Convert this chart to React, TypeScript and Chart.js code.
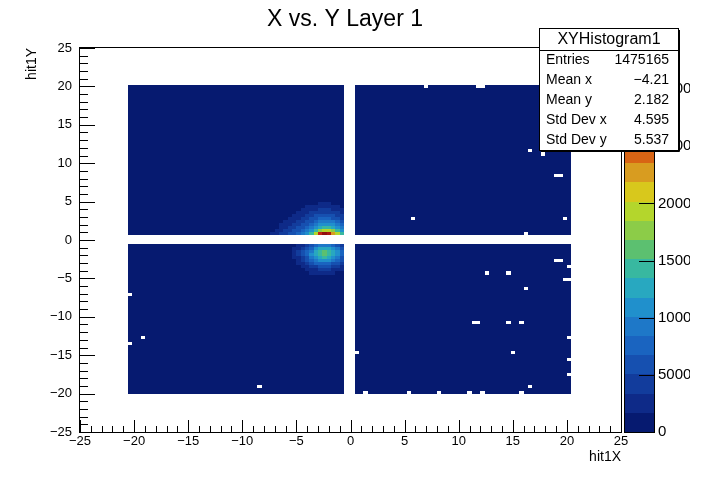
import React, { useEffect, useRef } from "react";
import { Chart, registerables } from "chart.js";

Chart.register(...registerables);

// ---------- text ----------
const chartTitle = "X vs. Y Layer 1";
const xAxisTitle = "hit1X";
const yAxisTitle = "hit1Y";
const axisMin = -25;
const axisMax = 25;
const axisMajorStep = 5;
const axisMinorStep = 1;

// ---------- histogram binning ----------
const binWidthX = 0.4;
const binHeightY = 0.4;
const xBlockStarts = [-20.6, 0.4];
const xBinsPerBlock = 50;
const yBlockStarts = [-20.1, 0.6];
const yBinsPerBlock = 49;
const backgroundCount = 60;

// ---------- hot spot near the origin (counts per bin) ----------
const hotspotFirstColumnLeft = -7.4; // 17 columns of 0.4 from here
const upperBlockBottom = 0.6; // upper rows go upward from here
const lowerBlockTop = -0.5; // lower rows go downward from here

const upperHotspotRows: number[][] = [
  [2500, 2500, 4200, 4200, 5900, 5900, 7600, 9300, 10900, 14300, 19300, 29400, 33600, 31000, 22700, 19300, 14300],
  [900, 2500, 2500, 4200, 4200, 5900, 5900, 7600, 9300, 10900, 14300, 17600, 19300, 19300, 17600, 14300, 10900],
  [900, 900, 2500, 2500, 4200, 4200, 5900, 5900, 7600, 9300, 10900, 12600, 14300, 14300, 12600, 10900, 9300],
  [900, 900, 2500, 2500, 2500, 4200, 4200, 5900, 5900, 7600, 9300, 10900, 10900, 10900, 10900, 9300, 7600],
  [900, 900, 900, 2500, 2500, 2500, 4200, 4200, 5900, 5900, 7600, 9300, 9300, 9300, 9300, 7600, 5900],
  [900, 900, 900, 900, 2500, 2500, 2500, 4200, 4200, 5900, 5900, 7600, 7600, 7600, 5900, 5900, 4200],
  [900, 900, 900, 900, 900, 2500, 2500, 2500, 4200, 4200, 5900, 5900, 5900, 5900, 5900, 4200, 4200],
  [900, 900, 900, 900, 900, 900, 2500, 2500, 2500, 4200, 4200, 4200, 4200, 4200, 4200, 4200, 2500],
  [900, 900, 900, 900, 900, 900, 900, 2500, 2500, 2500, 2500, 4200, 4200, 4200, 2500, 2500, 2500],
  [900, 900, 900, 900, 900, 900, 900, 900, 2500, 2500, 2500, 2500, 2500, 2500, 2500, 2500, 900],
  [900, 900, 900, 900, 900, 900, 900, 900, 900, 900, 900, 2500, 2500, 2500, 900, 900, 900],
];

const lowerHotspotRows: number[][] = [
  [900, 900, 900, 900, 900, 900, 2500, 2500, 4200, 5900, 7600, 9300, 9300, 9300, 7600, 5900, 4200],
  [900, 900, 900, 900, 900, 2500, 2500, 4200, 5900, 7600, 10900, 12600, 12600, 12600, 10900, 9300, 5900],
  [900, 900, 900, 900, 900, 2500, 4200, 5900, 7600, 9300, 12600, 14300, 16000, 14300, 12600, 10900, 7600],
  [900, 900, 900, 900, 900, 2500, 4200, 5900, 7600, 10900, 12600, 14300, 16000, 14300, 12600, 10900, 7600],
  [900, 900, 900, 900, 900, 2500, 2500, 4200, 5900, 9300, 10900, 12600, 14300, 12600, 10900, 9300, 5900],
  [900, 900, 900, 900, 900, 900, 2500, 4200, 5900, 7600, 9300, 10900, 10900, 10900, 9300, 7600, 5900],
  [900, 900, 900, 900, 900, 900, 2500, 2500, 4200, 5900, 7600, 7600, 7600, 7600, 5900, 5900, 4200],
  [900, 900, 900, 900, 900, 900, 900, 2500, 2500, 4200, 4200, 5900, 5900, 5900, 4200, 4200, 2500],
  [900, 900, 900, 900, 900, 900, 900, 900, 2500, 2500, 2500, 4200, 4200, 4200, 2500, 2500, 2500],
  [900, 900, 900, 900, 900, 900, 900, 900, 900, 2500, 2500, 2500, 2500, 2500, 2500, 900, 900],
];

// empty bins (bin centres) drawn as white holes
const emptyBins: [number, number][] = [
  [-20.4, -7.1], [-20.4, -13.5], [-19.2, -12.7], [-8.4, -19.1],
  [7.0, 20.0], [11.8, 20.0], [12.2, 20.0], [16.6, 11.6], [17.8, 11.2],
  [19.0, 8.4], [19.4, 8.4], [5.8, 2.8], [19.8, 2.8], [16.2, 0.8],
  [19.0, -2.7], [19.4, -2.7], [20.2, -3.5], [19.8, -5.1], [20.2, -5.1],
  [12.6, -4.3], [14.6, -4.3], [16.2, -6.3], [11.4, -10.7], [11.8, -10.7],
  [14.6, -10.7], [15.8, -10.7], [20.2, -12.7], [0.6, -14.7], [15.0, -14.7],
  [20.2, -15.5], [20.2, -17.5], [16.6, -19.1],
  [1.4, -19.9], [5.4, -19.9], [8.2, -19.9], [11.0, -19.9], [12.2, -19.9], [15.8, -19.9],
];

// ---------- colour scale ----------
const zMax = 33600;
const zTickValues = [0, 5000, 10000, 15000, 20000, 25000, 30000];
const contourLevels = 20;
const paletteColors = [
  "#061a70", "#0e2a88", "#123c9c", "#1650b0", "#1a64c0",
  "#1e78c8", "#2090cc", "#28a8c0", "#38b8a0", "#5cc070",
  "#8ccc48", "#b4d62c", "#d8c81c", "#d89c20", "#d86414",
  "#d04a14", "#c83414", "#c02414", "#a81810", "#901010",
];

// ---------- statistics box ----------
const statsName = "XYHistogram1";
const statsLabels = ["Entries", "Mean x", "Mean y", "Std Dev x", "Std Dev y"];
const statsValues = ["1475165", "\u22124.21", "2.182", "4.595", "5.537"];

const FONT = "'Liberation Sans', Arial, Helvetica, sans-serif";

type Cell = { x: number; y: number; v: number };

function binKey(x: number, y: number) {
  return Math.round(x * 10) + ":" + Math.round(y * 10);
}

function buildCells(): Cell[] {
  const map = new Map<string, Cell>();
  for (const x0 of xBlockStarts) {
    for (let i = 0; i < xBinsPerBlock; i++) {
      const cx = x0 + (i + 0.5) * binWidthX;
      for (const y0 of yBlockStarts) {
        for (let j = 0; j < yBinsPerBlock; j++) {
          const cy = y0 + (j + 0.5) * binHeightY;
          map.set(binKey(cx, cy), { x: cx, y: cy, v: backgroundCount });
        }
      }
    }
  }
  upperHotspotRows.forEach((row, r) =>
    row.forEach((v, c) => {
      const cx = hotspotFirstColumnLeft + (c + 0.5) * binWidthX;
      const cy = upperBlockBottom + (r + 0.5) * binHeightY;
      const cell = map.get(binKey(cx, cy));
      if (cell) cell.v = v;
    })
  );
  lowerHotspotRows.forEach((row, r) =>
    row.forEach((v, c) => {
      const cx = hotspotFirstColumnLeft + (c + 0.5) * binWidthX;
      const cy = lowerBlockTop - (r + 0.5) * binHeightY;
      const cell = map.get(binKey(cx, cy));
      if (cell) cell.v = v;
    })
  );
  emptyBins.forEach(([x, y]) => {
    const cell = map.get(binKey(x, y));
    if (cell) cell.v = 0;
  });
  return Array.from(map.values());
}

function levelOf(v: number) {
  return Math.max(0, Math.min(contourLevels - 1, Math.floor((v / zMax) * contourLevels)));
}

function fmt(v: number) {
  return v < 0 ? "\u2212" + String(-v) : String(v);
}

const heatmapPlugin = {
  id: "heatmapCells",
  beforeDatasetsDraw(chart: any) {
    const { ctx, chartArea, scales } = chart;
    const xs = scales.x;
    const ys = scales.y;
    const cells = chart.data.datasets[0].data as Cell[];
    ctx.save();
    ctx.beginPath();
    ctx.rect(chartArea.left, chartArea.top, chartArea.right - chartArea.left, chartArea.bottom - chartArea.top);
    ctx.clip();
    for (const c of cells) {
      if (c.v <= 0) continue;
      const x0 = Math.round(xs.getPixelForValue(c.x - binWidthX / 2));
      const x1 = Math.round(xs.getPixelForValue(c.x + binWidthX / 2));
      const y0 = Math.round(ys.getPixelForValue(c.y + binHeightY / 2));
      const y1 = Math.round(ys.getPixelForValue(c.y - binHeightY / 2));
      ctx.fillStyle = paletteColors[levelOf(c.v)];
      ctx.fillRect(x0, y0, x1 - x0, y1 - y0);
    }
    ctx.restore();
  },
  afterDatasetsDraw(chart: any) {
    const { ctx, chartArea, scales } = chart;
    const xs = scales.x;
    const ys = scales.y;
    const zs = scales.z;
    const L = Math.round(chartArea.left);
    const R = Math.round(chartArea.right);
    const T = Math.round(chartArea.top);
    const B = Math.round(chartArea.bottom);
    ctx.save();
    ctx.strokeStyle = "#000";
    ctx.lineWidth = 1;
    // frame
    ctx.strokeRect(L - 0.5, T - 0.5, R - L + 1, B - T + 1);
    // axis ticks (inside)
    ctx.beginPath();
    for (let v = axisMin; v <= axisMax; v += axisMinorStep) {
      const major = v % axisMajorStep === 0;
      const px = Math.round(xs.getPixelForValue(v)) + 0.5;
      ctx.moveTo(px, B);
      ctx.lineTo(px, B - (major ? 12 : 6));
      const py = Math.round(ys.getPixelForValue(v)) + 0.5;
      ctx.moveTo(L, py);
      ctx.lineTo(L + (major ? 15 : 8), py);
    }
    ctx.stroke();

    // colour bar
    const cbL = R + 3;
    const cbR = R + 33;
    for (let k = 0; k < contourLevels; k++) {
      const yTop = Math.round(zs.getPixelForValue(((k + 1) * zMax) / contourLevels));
      const yBot = Math.round(zs.getPixelForValue((k * zMax) / contourLevels));
      ctx.fillStyle = paletteColors[k];
      ctx.fillRect(cbL, yTop, cbR - cbL, yBot - yTop);
    }
    ctx.strokeRect(cbL + 0.5, T - 0.5, cbR - cbL, B - T + 1);
    ctx.beginPath();
    for (const t of zs.ticks) {
      const py = Math.round(zs.getPixelForValue(t.value)) + 0.5;
      ctx.moveTo(cbR, py);
      ctx.lineTo(cbR - 15, py);
    }
    ctx.stroke();
    ctx.restore();
  },
  afterDraw(chart: any) {
    const { ctx } = chart;
    const bx = 539;
    const by = 28;
    const bw = 139;
    const bh = 122;
    ctx.save();
    ctx.fillStyle = "#fff";
    ctx.fillRect(bx, by, bw, bh);
    ctx.strokeStyle = "#000";
    ctx.lineWidth = 1;
    ctx.strokeRect(bx + 0.5, by + 0.5, bw, bh);
    ctx.beginPath();
    ctx.moveTo(bx + bw + 1.5, by + 2);
    ctx.lineTo(bx + bw + 1.5, by + bh + 1.5);
    ctx.lineTo(bx + 2, by + bh + 1.5);
    ctx.moveTo(bx, by + 22.5);
    ctx.lineTo(bx + bw + 1, by + 22.5);
    ctx.stroke();
    ctx.fillStyle = "#000";
    ctx.textBaseline = "middle";
    ctx.font = `16px ${FONT}`;
    ctx.textAlign = "center";
    ctx.fillText(statsName, bx + bw / 2 + 0.5, by + 12);
    ctx.font = `14px ${FONT}`;
    statsLabels.forEach((lab, i) => {
      const yy = by + 32 + i * 20;
      ctx.textAlign = "left";
      ctx.fillText(lab, bx + 7, yy);
      ctx.textAlign = "right";
      ctx.fillText(statsValues[i], bx + bw - 9, yy);
    });
    ctx.restore();
  },
};

export default function App() {
  const ref = useRef<HTMLCanvasElement>(null);
  useEffect(() => {
    const canvas = ref.current;
    if (!canvas) return;
    const cells = buildCells();
    const tickFont = { family: FONT, size: 13 };
    const chart = new Chart(canvas, {
      type: "scatter",
      data: {
        datasets: [
          {
            label: statsName,
            data: cells as any,
            pointRadius: 0,
            pointHoverRadius: 0,
            showLine: false,
          },
        ],
      },
      options: {
        animation: false,
        responsive: false,
        events: [],
        layout: { padding: 0 },
        plugins: {
          legend: { display: false },
          tooltip: { enabled: false },
          title: {
            display: true,
            text: chartTitle,
            color: "#000",
            font: { family: FONT, size: 23, weight: "normal" as any, lineHeight: 1.2 },
            padding: { top: 6, bottom: 14.4 },
          },
        },
        scales: {
          x: {
            type: "linear",
            position: "bottom",
            min: axisMin,
            max: axisMax,
            afterFit: (s: any) => {
              s.height = 38;
            },
            grid: { display: false, drawTicks: false },
            border: { display: false },
            ticks: {
              stepSize: axisMajorStep,
              autoSkip: false,
              maxRotation: 0,
              padding: 2,
              color: "#000",
              font: tickFont,
              callback: (v: any) => fmt(Number(v)),
            },
            title: {
              display: true,
              text: xAxisTitle,
              align: "end",
              color: "#000",
              font: { family: FONT, size: 14 },
              padding: { top: 0, bottom: 4 },
            },
          },
          y: {
            type: "linear",
            position: "left",
            min: axisMin,
            max: axisMax,
            afterFit: (s: any) => {
              s.width = 80;
            },
            grid: { display: false, drawTicks: false },
            border: { display: false },
            ticks: {
              stepSize: axisMajorStep,
              autoSkip: false,
              padding: 8,
              color: "#000",
              font: tickFont,
              callback: (v: any) => fmt(Number(v)),
            },
            title: {
              display: true,
              text: yAxisTitle,
              align: "end",
              color: "#000",
              font: { family: FONT, size: 14 },
              padding: { top: 24, bottom: 0 },
            },
          },
          z: {
            type: "linear",
            axis: "y",
            position: "right",
            min: 0,
            max: zMax,
            afterBuildTicks: (s: any) => {
              s.ticks = zTickValues.map((value) => ({ value }));
            },
            afterFit: (s: any) => {
              s.width = 69;
            },
            grid: { display: false, drawTicks: false },
            border: { display: false },
            ticks: {
              autoSkip: false,
              padding: 37,
              color: "#000",
              font: { family: FONT, size: 15 },
              callback: (v: any) => String(v),
            },
          },
        } as any,
      },
      plugins: [heatmapPlugin as any],
    });
    return () => chart.destroy();
  }, []);
  return (
    <div style={{ position: "absolute", left: 0, top: 0, width: 690, height: 478, background: "#fff" }}>
      <canvas ref={ref} width={690} height={478} style={{ display: "block", width: 690, height: 478 }} />
    </div>
  );
}
